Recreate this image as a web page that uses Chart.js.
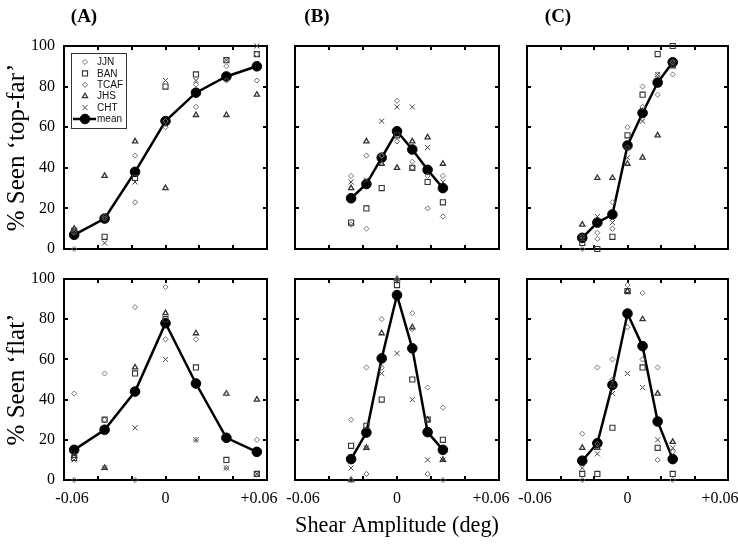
<!DOCTYPE html>
<html>
<head>
<meta charset="utf-8">
<script src="https://cdn.jsdelivr.net/npm/chart.js@4/dist/chart.umd.min.js"></script>
<style>
html, body { margin: 0; padding: 0; background: #fff; }
#wrap { position: relative; width: 738px; height: 548px; overflow: hidden; background: #fff; }
#wrap canvas { position: absolute; }
</style>
</head>
<body>
<div id="wrap"></div>
<script>
// ---------------- DATA ----------------
const observers = ['JJN', 'BAN', 'TCAF', 'JHS', 'CHT', 'mean'];
const shearA  = [-0.054, -0.036, -0.018, 0, 0.018, 0.036, 0.054];
const shearBC = [-0.027, -0.018, -0.009, 0, 0.009, 0.018, 0.027];
const xTickValues = [-0.06, 0, 0.06];
const xTickLabels = ['-0.06', '0', '+0.06'];
const yTickValues = [0, 20, 40, 60, 80, 100];
const yTickLabels = ['0', '20', '40', '60', '80', '100'];
const panelLetters = ['(A)', '(B)', '(C)'];
const rowTitles = ['% Seen \u2018top-far\u2019', '% Seen \u2018flat\u2019'];
const xTitle = 'Shear Amplitude (deg)';

// Row 1: % seen 'top-far'
const topFarA_JJN  = [0, 15, 46, 63, 81, 90, 96];
const topFarA_BAN  = [9, 6, 35, 80, 86, 93, 96];
const topFarA_TCAF = [8, 16, 23, 60, 70, 83, 83];
const topFarA_JHS  = [10, 36, 53, 30, 66, 66, 76];
const topFarA_CHT  = [8, 3, 33, 83, 83, 93, 100];
const topFarA_mean = [7, 15, 38, 63, 77, 85, 90];

const topFarB_JJN  = [36, 10, 46, 73, 43, 36, 36];
const topFarB_BAN  = [13, 20, 30, 56, 40, 33, 23];
const topFarB_TCAF = [12, 46, 46, 53, 40, 20, 16];
const topFarB_JHS  = [30, 53, 42, 40, 53, 55, 42];
const topFarB_CHT  = [33, 34, 63, 70, 70, 50, 33];
const topFarB_mean = [25, 32, 45, 58, 49, 39, 30];

const topFarC_JJN  = [0, 8, 23, 60, 80, 76, 86];
const topFarC_BAN  = [3, 0, 6, 56, 76, 96, 100];
const topFarC_TCAF = [6, 5, 10, 50, 70, 86, 92];
const topFarC_JHS  = [12, 35, 35, 42, 45, 56, 90];
const topFarC_CHT  = [6, 16, 13, 45, 63, 86, 92];
const topFarC_mean = [5.5, 13, 17, 51, 67, 82, 92];

// Row 2: % seen 'flat'
const flatA_JJN  = [43, 53, 86, 96, 70, 43, 20];
const flatA_BAN  = [11, 30, 53, 80, 56, 10, 3];
const flatA_TCAF = [0, 30, 0, 70, 20, 6, 3];
const flatA_JHS  = [12, 6, 56, 83, 73, 43, 40];
const flatA_CHT  = [10, 6, 26, 60, 20, 6, 3];
const flatA_mean = [15, 25, 44, 78, 48, 21, 14];

const flatB_JJN  = [30, 56, 80, 100, 83, 46, 36];
const flatB_BAN  = [17, 27, 40, 97, 50, 30, 20];
const flatB_TCAF = [0, 3, 56, 99, 75, 3, 0];
const flatB_JHS  = [0, 16, 73, 100, 76, 30, 10];
const flatB_CHT  = [6, 16, 53, 63, 40, 10, 10];
const flatB_mean = [10.4, 23.6, 60.5, 92, 65.5, 23.8, 15];

const flatC_JJN  = [23, 56, 60, 97, 93, 56, 0];
const flatC_BAN  = [3, 3, 26, 94, 56, 16, 3];
const flatC_TCAF = [0, 18, 50, 76, 60, 10, 14];
const flatC_JHS  = [16, 16, 47, 94, 80, 43, 19];
const flatC_CHT  = [6, 13, 43, 53, 46, 20, 16];
const flatC_mean = [9.6, 18.3, 47.3, 82.8, 66.6, 29.1, 10.4];

// ---------------- PANELS ----------------
const panels = [
  { row: 0, col: 0, x: shearA,  series: [topFarA_JJN, topFarA_BAN, topFarA_TCAF, topFarA_JHS, topFarA_CHT, topFarA_mean] },
  { row: 0, col: 1, x: shearBC, series: [topFarB_JJN, topFarB_BAN, topFarB_TCAF, topFarB_JHS, topFarB_CHT, topFarB_mean] },
  { row: 0, col: 2, x: shearBC, series: [topFarC_JJN, topFarC_BAN, topFarC_TCAF, topFarC_JHS, topFarC_CHT, topFarC_mean] },
  { row: 1, col: 0, x: shearA,  series: [flatA_JJN, flatA_BAN, flatA_TCAF, flatA_JHS, flatA_CHT, flatA_mean] },
  { row: 1, col: 1, x: shearBC, series: [flatB_JJN, flatB_BAN, flatB_TCAF, flatB_JHS, flatB_CHT, flatB_mean] },
  { row: 1, col: 2, x: shearBC, series: [flatC_JJN, flatC_BAN, flatC_TCAF, flatC_JHS, flatC_CHT, flatC_mean] }
];

// ---------------- STYLES / LAYOUT ----------------
const markerStyles = [
  { pointStyle: 'rectRot',  radius: 2.6, color: '#777', width: 1 },
  { pointStyle: 'rect',     radius: 3.6, color: '#333', width: 1.1 },
  { pointStyle: 'rectRot',  radius: 2.6, color: '#666', width: 1 },
  { pointStyle: 'triangle', radius: 3.0, color: '#333', width: 1.3 },
  { pointStyle: 'crossRot', radius: 3.6, color: '#444', width: 1 },
  { pointStyle: 'circle',   radius: 4.8, color: '#000', width: 1 }
];
const colGeo = [{ L: 64, R: 267 }, { L: 295, R: 499 }, { L: 527, R: 728 }];
const rowGeo = [{ T: 46, B: 249 }, { T: 279, B: 480 }];
const letterDx = [20, 22, 31];
const SERIF = '"Liberation Serif", "Times New Roman", serif';
const SANS = '"Liberation Sans", Arial, sans-serif';

Chart.defaults.font.family = SERIF;
Chart.defaults.color = '#000';

function drawSymbol(ctx, style, r, x, y) {
  ctx.beginPath();
  if (style === 'rectRot') {
    ctx.moveTo(x - r, y); ctx.lineTo(x, y - r); ctx.lineTo(x + r, y); ctx.lineTo(x, y + r); ctx.closePath();
  } else if (style === 'rect') {
    const s = r * Math.SQRT1_2; ctx.rect(x - s, y - s, 2 * s, 2 * s);
  } else if (style === 'triangle') {
    let a = 0;
    ctx.moveTo(x + Math.sin(a) * r, y - Math.cos(a) * r);
    a += 2 * Math.PI / 3; ctx.lineTo(x + Math.sin(a) * r, y - Math.cos(a) * r);
    a += 2 * Math.PI / 3; ctx.lineTo(x + Math.sin(a) * r, y - Math.cos(a) * r);
    ctx.closePath();
  } else if (style === 'crossRot') {
    const s = r * Math.SQRT1_2;
    ctx.moveTo(x - s, y - s); ctx.lineTo(x + s, y + s); ctx.moveTo(x + s, y - s); ctx.lineTo(x - s, y + s);
  } else {
    ctx.arc(x, y, r, 0, Math.PI * 2);
  }
}

// legend drawn inside the chart area of panel A (top)
const boxLegend = {
  id: 'boxLegend',
  afterDatasetsDraw(chart, args, o) {
    if (!o || !o.display) return;
    const { ctx, chartArea } = chart;
    const x0 = chartArea.left + o.x, y0 = chartArea.top + o.y;
    ctx.save();
    ctx.fillStyle = '#fff';
    ctx.fillRect(x0, y0, o.w, o.h);
    ctx.strokeStyle = '#333'; ctx.lineWidth = 1;
    ctx.strokeRect(x0 + 0.5, y0 + 0.5, o.w, o.h);
    ctx.font = '10px ' + SANS;
    ctx.textBaseline = 'middle';
    ctx.textAlign = 'left';
    chart.data.datasets.forEach((ds, i) => {
      const cy = y0 + o.first + i * o.step;
      const cx = x0 + o.symX;
      if (ds.showLine) {
        ctx.strokeStyle = ds.borderColor; ctx.lineWidth = ds.borderWidth;
        ctx.beginPath(); ctx.moveTo(x0 + 2, cy); ctx.lineTo(x0 + o.textX - 1, cy); ctx.stroke();
      }
      const m = markerStyles[i];
      ctx.strokeStyle = m.color; ctx.lineWidth = m.width;
      ctx.fillStyle = i === 5 ? m.color : 'rgba(0,0,0,0)';
      drawSymbol(ctx, m.pointStyle, m.radius, cx, cy);
      if (i === 5) ctx.fill();
      ctx.stroke();
      ctx.fillStyle = '#111';
      ctx.fillText(ds.label, x0 + o.textX, cy + 0.5);
    });
    ctx.restore();
  }
};

// panel letter (A)/(B)/(C) above each top panel
const panelTag = {
  id: 'panelTag',
  afterDraw(chart, args, o) {
    if (!o || !o.text) return;
    const { ctx, chartArea } = chart;
    ctx.save();
    ctx.font = 'bold 19px ' + SERIF;
    ctx.fillStyle = '#000';
    ctx.textAlign = 'center';
    ctx.textBaseline = 'middle';
    ctx.fillText(o.text, chartArea.left + o.dx, chartArea.top - o.dy);
    ctx.restore();
  }
};

function findLabel(values, labels, v) {
  for (let i = 0; i < values.length; i++) if (Math.abs(values[i] - v) < 1e-9) return labels[i];
  return '';
}

function axisBase(position, axis) {
  return {
    type: 'linear',
    axis: axis,
    position: position,
    border: { display: true, color: '#000', width: 2 },
    grid: { display: true, drawOnChartArea: false, drawTicks: true, tickLength: -4, color: '#000', lineWidth: 2 }
  };
}

function fixH(size) {
  return s => { s.height = size; s.paddingLeft = 0; s.paddingRight = 0; s.paddingTop = 0; s.paddingBottom = 0; };
}
function fixW(size) {
  return s => { s.width = size; s.paddingLeft = 0; s.paddingRight = 0; s.paddingTop = 0; s.paddingBottom = 0; };
}

const wrap = document.getElementById('wrap');

panels.forEach(p => {
  const col = colGeo[p.col], row = rowGeo[p.row];
  const padL = p.col === 0 ? 64 : 20, padR = 10;
  const padT = p.row === 0 ? 46 : 10, padB = p.row === 1 ? 68 : 10;
  const w = padL + (col.R - col.L) + padR;
  const h = padT + (row.B - row.T) + padB;
  const cv = document.createElement('canvas');
  cv.width = w; cv.height = h;
  cv.style.left = (col.L - padL) + 'px';
  cv.style.top = (row.T - padT) + 'px';
  cv.style.width = w + 'px'; cv.style.height = h + 'px';
  wrap.appendChild(cv);

  const showY = p.col === 0, showX = p.row === 1;

  const datasets = p.series.map((vals, i) => {
    const m = markerStyles[i];
    const isMean = i === 5;
    return {
      label: observers[i],
      data: vals.map((v, k) => ({ x: p.x[k], y: v })),
      showLine: isMean,
      borderColor: m.color,
      borderWidth: isMean ? 2.5 : 0,
      backgroundColor: isMean ? m.color : 'rgba(0,0,0,0)',
      pointStyle: m.pointStyle,
      pointRadius: m.radius,
      pointHoverRadius: m.radius,
      pointBorderColor: m.color,
      pointBackgroundColor: isMean ? m.color : 'rgba(0,0,0,0)',
      pointBorderWidth: m.width,
      tension: 0,
      clip: false
    };
  });

  const x = axisBase('bottom', 'x');
  Object.assign(x, {
    min: -0.06, max: 0.06,
    ticks: {
      display: showX, stepSize: 0.02, autoSkip: false, maxRotation: 0, minRotation: 0,
      padding: 13, color: '#000', font: { family: SERIF, size: 16 },
      callback: (v, idx, ticks) => {
        const lab = findLabel(xTickValues, xTickLabels, v);
        if (!lab) return '';
        if (idx === 0) return '    ' + lab;
        if (idx === ticks.length - 1) return lab + '    ';
        return lab;
      }
    },
    title: {
      display: p.row === 1 && p.col === 1, text: xTitle, color: '#000',
      font: { family: SERIF, size: 22.5 }, padding: { top: 0, bottom: 8 }
    },
    afterFit: fixH(padB)
  });
  const x2 = axisBase('top', 'x');
  Object.assign(x2, {
    min: -0.06, max: 0.06,
    ticks: { display: false, stepSize: 0.02 },
    afterFit: fixH(padT)
  });
  const y = axisBase('left', 'y');
  Object.assign(y, {
    min: 0, max: 100,
    ticks: {
      display: showY, stepSize: 20, padding: 13, color: '#000',
      font: { family: SERIF, size: 16 },
      callback: v => findLabel(yTickValues, yTickLabels, v)
    },
    title: {
      display: showY, text: rowTitles[p.row], color: '#000',
      font: { family: SERIF, size: 25 }, padding: { top: 2, bottom: 0 }
    },
    afterFit: fixW(padL)
  });
  const y2 = axisBase('right', 'y');
  Object.assign(y2, {
    min: 0, max: 100,
    ticks: { display: false, stepSize: 20 },
    afterFit: fixW(padR)
  });

  new Chart(cv.getContext('2d'), {
    type: 'scatter',
    data: { datasets: datasets },
    plugins: [boxLegend, panelTag],
    options: {
      responsive: false,
      animation: false,
      events: [],
      layout: { padding: 0 },
      scales: { x: x, x2: x2, y: y, y2: y2 },
      plugins: {
        legend: { display: false },
        tooltip: { enabled: false },
        title: { display: false },
        boxLegend: { display: p.row === 0 && p.col === 0, x: 7, y: 7, w: 55, h: 75, first: 9, step: 11.4, symX: 14, textX: 26 },
        panelTag: { text: p.row === 0 ? panelLetters[p.col] : '', dx: letterDx[p.col], dy: 29 }
      }
    }
  });
});
</script>
</body>
</html>
